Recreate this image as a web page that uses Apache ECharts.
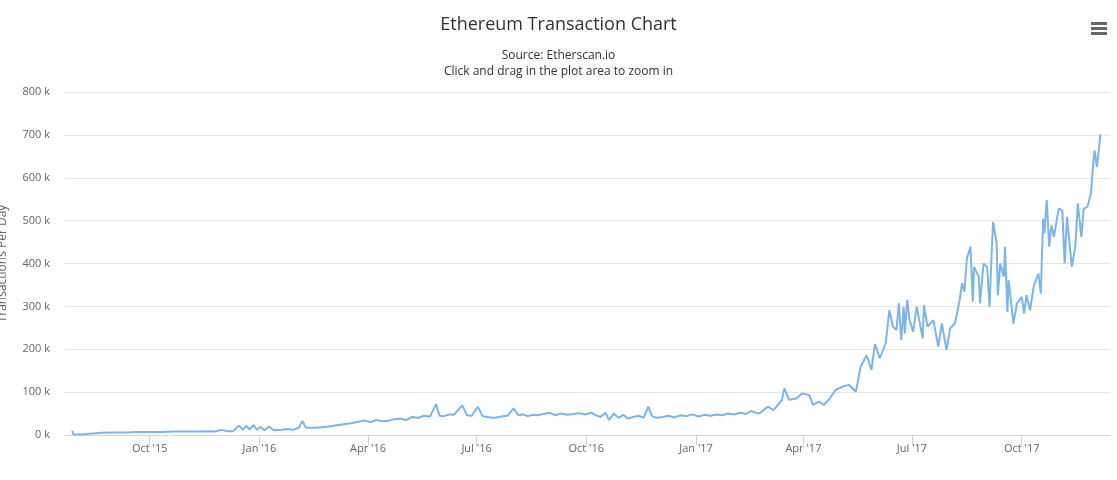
<!DOCTYPE html>
<html><head><meta charset="utf-8">
<script src="https://cdn.jsdelivr.net/npm/echarts@6/dist/echarts.min.js"></script>
<style>html,body{margin:0;padding:0;background:#fff}#c{width:1117px;height:480px}</style>
</head><body><div id="c"></div>
<script>
// [days since 2015-10-01, transactions per day in thousands]
const baseDate = '2015-10-01';
const points2015to2016 = [[-65,10],[-64,2],[-60,1],[-55,2],[-50,3],[-45,4],[-40,5],[-30,6],[-20,6],[-10,7],[0,7],[10,7],[20,8],[30,8],[40,8],[50,9],[55,8],[60,12],[65,9],[70,9],[75,22],[78,12],[81,21],[84,13],[87,23],[90,12],[93,19],[96,11],[100,20],[104,11],[110,12],[115,14],[120,12],[125,17],[128,33],[131,17],[140,17],[150,20],[160,24],[170,28],[180,34],[185,30],[190,35],[195,32],[200,33],[205,37],[210,38],[215,35],[220,42],[225,40],[230,45],[235,43],[240,72],[243,45],[247,44],[251,48],[255,47],[262,69],[266,46],[270,45],[275,66],[279,44],[283,42],[287,40],[290,41],[295,43],[300,45],[305,62],[309,46],[313,48],[317,44],[321,47],[325,46],[330,49],[335,52],[340,46],[345,50],[350,47],[355,49],[360,51],[365,48],[370,52],[374,46],[378,42],[382,52],[385,35],[389,50],[393,40],[397,47],[401,38],[405,42],[410,45],[414,40],[418,66],[421,44],[425,40],[430,42],[435,45],[440,41],[445,46],[450,44],[455,48],[460,43],[465,47],[470,45],[475,48],[480,46],[485,50],[490,48],[495,52],[500,49],[504,56],[508,52]];
const points2017 = [[511,50],[518,66],[523,58],[530,82],[532,109],[536,82],[542,85],[547,97],[553,93],[556,70],[561,78],[565,70],[570,85],[575,105],[581,113],[586,117],[592,101],[596,159],[601,186],[605,152],[608,212],[612,179],[617,214],[620,291],[623,253],[626,245],[628,307],[630,221],[632,299],[633,237],[635,315],[637,268],[640,241],[643,299],[648,225],[649,303],[652,253],[657,268],[661,206],[664,260],[668,198],[671,249],[675,260],[679,315],[681,354],[683,334],[685,412],[688,439],[690,311],[691,392],[695,369],[696,307],[699,400],[702,392],[704,299],[706,439],[707,497],[710,447],[711,326],[713,400],[716,369],[717,439],[719,287],[720,361],[724,260],[727,307],[731,322],[733,284],[735,326],[738,291],[741,346],[745,377],[747,330],[749,505],[750,470],[752,548],[754,439],[756,490],[758,462],[762,528],[765,524],[767,400],[769,509],[770,478],[773,392],[776,443],[778,540],[781,462],[783,528],[786,532],[789,563],[790,602],[792,664],[794,625],[797,702]];
const yTicks = [0,100000,200000,300000,400000,500000,600000,700000,800000];
const monthNames = ['Jan','Feb','Mar','Apr','May','Jun','Jul','Aug','Sep','Oct','Nov','Dec'];
</script>
<script>
const DAY = 86400000;
const b = new Date(baseDate + 'T00:00:00Z').getTime();
const pts = points2015to2016.concat(points2017).map(p => [b + p[0] * DAY, p[1] * 1000]);
const chart = echarts.init(document.getElementById('c'));
chart.setOption({
  animation: false,
  title: [
    {text: 'Ethereum Transaction Chart', left: 'center', top: 11, textStyle: {fontFamily: 'Open Sans', fontSize: 18, fontWeight: 'normal', color: '#333'}},
    {text: 'Source: Etherscan.io', left: 'center', top: 45, textStyle: {fontFamily: 'Open Sans', fontSize: 12, fontWeight: 'normal', color: '#333'}},
    {text: 'Click and drag in the plot area to zoom in', left: 'center', top: 61, textStyle: {fontFamily: 'Open Sans', fontSize: 12, fontWeight: 'normal', color: '#333'}}
  ],
  grid: {left: 65, right: 7, top: 92, bottom: 45, containLabel: false, outerBoundsMode: 'none'},
  xAxis: {
    type: 'time',
    min: b - 71 * DAY, max: b + 805 * DAY,
    minInterval: 90 * DAY, maxInterval: 92 * DAY,
    axisLine: {lineStyle: {color: '#ccd6eb'}},
    axisTick: {lineStyle: {color: '#ccd6eb'}, length: 10},
    splitLine: {show: false},
    axisLabel: {color: '#666', fontFamily: 'Open Sans', fontSize: 11, margin: 8, hideOverlap: false,
      formatter: v => { const d = new Date(v); return monthNames[d.getUTCMonth()] + " '" + String(d.getUTCFullYear()).slice(2); }}
  },
  yAxis: {
    type: 'value', min: yTicks[0], max: yTicks[yTicks.length - 1], interval: 100000,
    name: 'Transactions Per Day', nameLocation: 'middle', nameGap: 56, nameRotate: 90,
    nameTextStyle: {color: '#666', fontFamily: 'Open Sans', fontSize: 12},
    axisLine: {show: false}, axisTick: {show: false},
    splitLine: {lineStyle: {color: '#e6e6e6'}},
    axisLabel: {color: '#666', fontFamily: 'Open Sans', fontSize: 11, margin: 15, formatter: v => (v / 1000) + ' k'}
  },
  series: [{type: 'line', data: pts, showSymbol: false, lineStyle: {color: '#7cb5ec', width: 2}, itemStyle: {color: '#7cb5ec'}}],
  graphic: [
    {type: 'rect', shape: {x: 1091, y: 22, width: 16, height: 3}, style: {fill: '#666'}},
    {type: 'rect', shape: {x: 1091, y: 27, width: 16, height: 3}, style: {fill: '#666'}},
    {type: 'rect', shape: {x: 1091, y: 32, width: 16, height: 3}, style: {fill: '#666'}}
  ]
});
</script></body></html>
